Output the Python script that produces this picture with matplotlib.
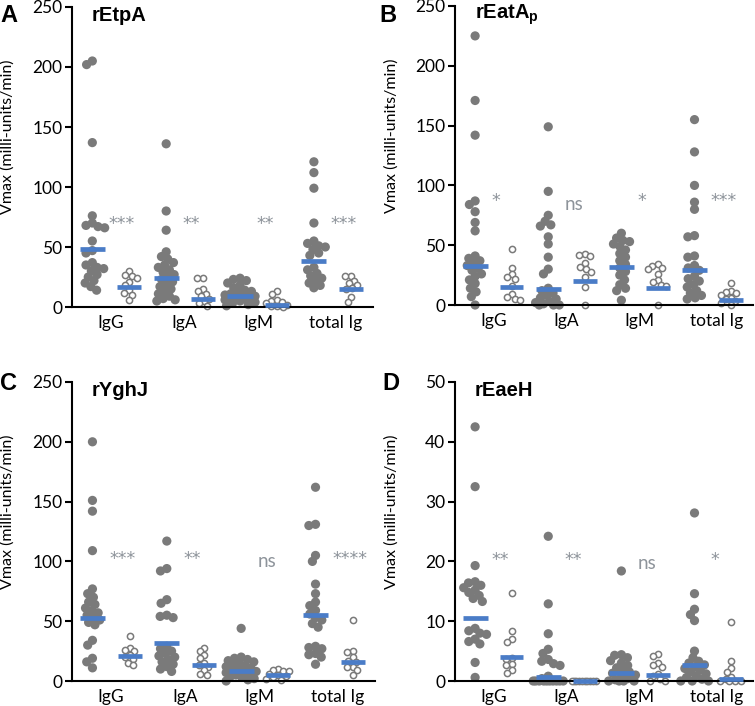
import numpy as np
import matplotlib
matplotlib.use('Agg')
import matplotlib.pyplot as plt

plt.rcParams['font.family'] = ['Lato', 'DejaVu Sans']
plt.rcParams['mathtext.fontset'] = 'custom'
plt.rcParams['mathtext.bf'] = 'Liberation Sans:bold'

groups = ['IgG', 'IgA', 'IgM', 'total Ig']

# A - rEtpA
etpa_pat = [
    [205, 202, 137, 76, 70, 68, 67, 66, 55, 47, 45, 37, 35, 33, 32, 30, 27, 25, 22, 20, 17, 14],
    [136, 80, 64, 46, 42, 40, 37, 35, 33, 31, 29, 27, 25, 23, 21, 19, 17, 15, 13, 11, 9, 7, 6, 5],
    [24, 23, 22, 20, 18, 16, 14, 13, 12, 11, 10, 10, 9, 9, 8, 8, 7, 7, 6, 5, 4, 3, 2, 1],
    [121, 112, 99, 70, 55, 53, 51, 50, 48, 45, 43, 33, 31, 28, 26, 24, 22, 20, 18, 16],
]
etpa_ctl = [
    [30, 27, 26, 24, 21, 18, 14, 12, 10, 6],
    [24, 24, 15, 13, 11, 9, 7, 5, 3, 1],
    [13, 11, 6, 5, 4, 3, 2, 1, 0.5, 0],
    [26, 26, 22, 20, 18, 16, 15, 8, 4],
]
etpa_med_pat = [48, 24, 9, 38]
etpa_med_ctl = [17, 7, 2, 15]
etpa_sig = ['***', '**', '**', '***']

# B - rEatAp
eata_pat = [
    [225, 171, 142, 87, 84, 78, 69, 62, 41, 39, 37, 35, 33, 31, 29, 26, 24, 21, 18, 14, 11, 7, 0],
    [149, 95, 75, 70, 67, 66, 57, 51, 40, 30, 26, 14, 12, 10, 8, 6, 5, 3, 2, 1, 0, 0, 0],
    [60, 56, 54, 53, 51, 49, 46, 43, 40, 37, 34, 31, 28, 25, 21, 17, 14, 12, 4],
    [155, 128, 100, 86, 80, 58, 57, 41, 40, 33, 31, 29, 24, 22, 20, 17, 15, 12, 10, 8, 6, 5],
]
eata_ctl = [
    [47, 31, 26, 23, 22, 16, 9, 7, 5, 4],
    [43, 42, 41, 35, 32, 30, 28, 23, 15, 0],
    [34, 33, 31, 30, 26, 21, 19, 17, 16, 0],
    [18, 12, 11, 10, 8, 6, 5, 3, 2, 0],
]
eata_med_pat = [33, 13, 32, 29]
eata_med_ctl = [15, 20, 14, 4]
eata_sig = ['*', 'ns', '*', '***']

# C - rYghJ
yghj_pat = [
    [200, 151, 142, 109, 77, 73, 70, 66, 64, 61, 59, 57, 55, 53, 51, 49, 47, 34, 30, 19, 16, 11],
    [117, 94, 92, 68, 65, 55, 54, 53, 29, 27, 25, 23, 21, 20, 18, 16, 14, 12, 10, 8],
    [44, 20, 19, 18, 17, 16, 15, 14, 13, 12, 11, 10, 9, 8, 8, 7, 6, 5, 4, 3, 2, 1, 0],
    [162, 131, 130, 105, 100, 81, 73, 66, 63, 59, 56, 53, 51, 48, 45, 29, 28, 27, 23, 22, 20, 14],
]
yghj_ctl = [
    [38, 28, 26, 25, 22, 20, 18, 15, 13],
    [28, 25, 22, 19, 15, 13, 12, 9, 6, 5],
    [10, 9, 8, 8, 6, 5, 4, 3, 2, 1],
    [51, 25, 24, 20, 17, 16, 12, 12, 9, 5],
]
yghj_med_pat = [53, 32, 8, 55]
yghj_med_ctl = [21, 13, 5, 16]
yghj_sig = ['***', '**', 'ns', '****']

# D - rEaeH
eaeh_pat = [
    [42.5, 32.5, 19.3, 16.6, 16.4, 16.0, 15.6, 15.2, 14.8, 14.3, 13.8, 13.3, 8.8, 8.4, 8.0, 7.8, 7.0, 6.6, 6.2, 3.1, 0.6],
    [24.2, 12.9, 7.9, 5.3, 4.6, 3.6, 3.3, 2.9, 2.6, 0.8, 0.4, 0, 0, 0, 0, 0, 0, 0, 0, 0, 0],
    [18.4, 4.4, 4.3, 3.9, 3.4, 3.0, 2.6, 2.2, 1.8, 1.5, 1.3, 1.0, 0.7, 0.4, 0.2, 0, 0, 0, 0],
    [28.1, 14.6, 12.0, 11.1, 10.1, 5.0, 3.9, 3.3, 3.0, 2.7, 2.4, 2.1, 1.8, 1.5, 1.2, 0.9, 0.6, 0.3, 0, 0, 0],
]
eaeh_ctl = [
    [14.7, 8.3, 7.1, 6.5, 3.8, 3.6, 2.8, 2.6, 1.8, 1.3],
    [0, 0, 0, 0, 0, 0, 0, 0, 0, 0],
    [4.5, 4.1, 3.0, 2.7, 2.4, 1.2, 0.8, 0.3, 0, 0],
    [9.8, 3.4, 2.2, 1.5, 0.6, 0.3, 0, 0, 0, 0],
]
eaeh_med_pat = [10.5, 0.7, 1.4, 2.6]
eaeh_med_ctl = [4.0, 0.0, 1.0, 0.4]
eaeh_sig = ['**', '**', 'ns', '*']

GRAY = '#7a7a7a'
BLUE = '#4a7cc7'
SIG = '#8d939a'


def swarm(ax, xc, vals, diam_px, cap_px, spacing=0.75):
    # beeswarm offsets in pixels, limited to +-cap_px
    vals = np.asarray(vals, float)
    pts = ax.transData.transform(np.column_stack([np.full(len(vals), xc), vals]))
    ys = pts[:, 1]
    md = diam_px * spacing
    offs = np.zeros(len(vals))
    placed = []
    grid = np.linspace(-cap_px, cap_px, 41)
    for i in np.argsort(-ys):
        y = ys[i]
        near = [(px, py) for px, py in placed if abs(py - y) < md]
        cands = [0.0]
        for px, py in near:
            d = np.sqrt(md ** 2 - (py - y) ** 2)
            cands += [px - d, px + d]
        cands = [c for c in cands if abs(c) <= cap_px]
        cands.sort(key=abs)
        best = None
        for c in cands:
            if all((c - px) ** 2 + (y - py) ** 2 >= md ** 2 - 1e-6 for px, py in near):
                best = c
                break
        if best is None:
            score = [min((g - px) ** 2 + (y - py) ** 2 for px, py in near) for g in grid]
            best = grid[int(np.argmax(score))]
        offs[i] = best
        placed.append((best, y))
    back = ax.transData.inverted().transform(np.column_stack([pts[:, 0] + offs, ys]))
    return back[:, 0]


def panel(rect, letter, letter_xy, title, pat, ctl, med_pat, med_ctl, sig, sig_y, ymax, ystep):
    ax = fig.add_axes(rect)
    ax.set_xlim(-0.55, 7.6)
    ax.set_ylim(0, ymax)
    for s in ['top', 'right']:
        ax.spines[s].set_visible(False)
    for s in ['left', 'bottom']:
        ax.spines[s].set_linewidth(1.5)
    ax.set_yticks(np.arange(0, ymax + 1, ystep))
    ax.tick_params(axis='y', length=5, width=1.5, labelsize=12.5, pad=2)
    ax.set_xticks([0.5, 2.5, 4.5, 6.6])
    ax.set_xticklabels(groups)
    ax.tick_params(axis='x', length=0, labelsize=12.5, pad=6)
    ax.set_ylabel('Vmax (milli-units/min)', fontsize=11.5)
    ax.yaxis.set_label_coords(-0.19, 0.567)

    for k in range(4):
        xp = 2 * k
        xc = 2 * k + 1
        xs = swarm(ax, xp, pat[k], 9, 15)
        ax.scatter(xs, pat[k], s=44, color=GRAY, edgecolors='none', clip_on=False, zorder=2)
        xs = swarm(ax, xc, ctl[k], 7.5, 13)
        ax.scatter(xs, ctl[k], s=20, facecolors='white', edgecolors=GRAY, linewidths=1.1,
                   clip_on=False, zorder=2)
        ax.plot([xp - 0.34, xp + 0.34], [med_pat[k]] * 2, color=BLUE, lw=3.4,
                solid_capstyle='butt', clip_on=False, zorder=3)
        ax.plot([xc - 0.32, xc + 0.32], [med_ctl[k]] * 2, color=BLUE, lw=3.4,
                solid_capstyle='butt', clip_on=False, zorder=3)
        if sig[k] == 'ns':
            ax.text(2 * k + 0.45, sig_y[k], 'ns', color=SIG, fontsize=13.5,
                    ha='left', va='center')
        else:
            ax.text(2 * k + 0.45, sig_y[k], sig[k], color=SIG, fontsize=12.5,
                    ha='left', va='center', family='DejaVu Sans')

    ax.text(0.066, 0.972, title, transform=ax.transAxes, fontsize=14.5,
            fontweight='bold', family='Liberation Sans', va='center', ha='left')
    fig.text(letter_xy[0], letter_xy[1], letter, fontsize=17, fontweight='bold',
             family='Liberation Sans', va='center', ha='left')
    return ax


fig = plt.figure(figsize=(7.55, 7.06), dpi=100)

panel([72 / 755, 399 / 706, 301 / 755, 300 / 706], 'A', (0.0, 0.978), 'rEtpA',
      etpa_pat, etpa_ctl, etpa_med_pat, etpa_med_ctl, etpa_sig, [69] * 4, 250, 50)
panel([455 / 755, 401 / 706, 298 / 755, 299 / 706], 'B', (0.503, 0.978), r'rEatA$_\mathbf{p}$',
      eata_pat, eata_ctl, eata_med_pat, eata_med_ctl, eata_sig, [87, 84, 87, 87], 250, 50)
panel([72 / 755, 25 / 706, 303 / 755, 299 / 706], 'C', (0.0, 0.457), 'rYghJ',
      yghj_pat, yghj_ctl, yghj_med_pat, yghj_med_ctl, yghj_sig, [102, 102, 100, 102], 250, 50)
panel([455 / 755, 25 / 706, 298 / 755, 299 / 706], 'D', (0.506, 0.457), 'rEaeH',
      eaeh_pat, eaeh_ctl, eaeh_med_pat, eaeh_med_ctl, eaeh_sig, [20.3, 20.3, 19.6, 20.3], 50, 10)

fig.savefig('out.png', dpi=100)
